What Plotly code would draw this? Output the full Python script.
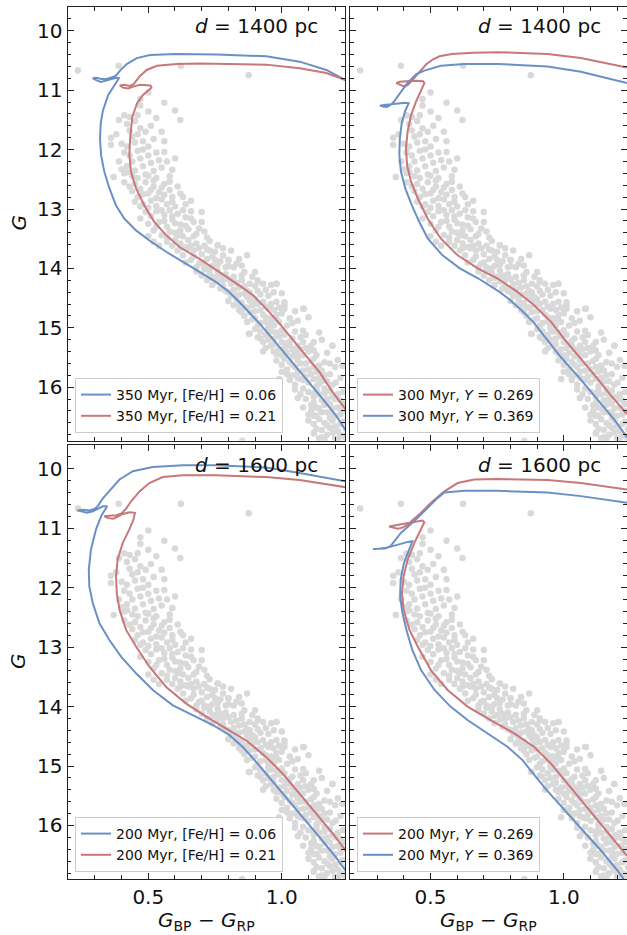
import plotly.graph_objects as go

# ---------------- observed cluster members (same stars in every panel) ----------------
stars = [
    (0.236, 10.67), (0.389, 10.59), (0.622, 10.59), (0.876, 10.75),
    (0.50, 11.04), (0.56, 11.21), (0.60, 11.34), (0.62, 11.50), (0.47, 11.15), (0.47, 11.26),
    (0.46, 11.42), (0.50, 11.36), (0.53, 11.47), (0.39, 11.50), (0.41, 11.42), (0.43, 11.45),
    (0.45, 11.52), (0.42, 11.57), (0.47, 11.64), (0.49, 11.70), (0.46, 11.74), (0.44, 11.78),
    (0.51, 11.60), (0.55, 11.70), (0.56, 11.86), (0.36, 11.80), (0.36, 11.92), (0.40, 11.90),
    (0.42, 11.95), (0.45, 11.88), (0.48, 11.86), (0.50, 11.95), (0.52, 11.82), (0.43, 11.68),
    (0.38, 11.74),
    (0.37, 12.46), (0.40, 12.33), (0.41, 12.40), (0.42, 12.28), (0.43, 12.10), (0.44, 12.20),
    (0.45, 12.35), (0.46, 12.02), (0.47, 12.15), (0.48, 12.28), (0.49, 12.42), (0.50, 12.10),
    (0.51, 12.22), (0.52, 12.36), (0.53, 12.05), (0.54, 12.18), (0.55, 12.30), (0.56, 12.04),
    (0.57, 12.20), (0.58, 12.45), (0.60, 12.15), (0.59, 12.34), (0.39, 12.20), (0.41, 12.05),
    (0.44, 12.45), (0.46, 12.48), (0.50, 12.44), (0.53, 12.48), (0.42, 12.38), (0.48, 12.00),
    (0.41, 12.55), (0.43, 12.62), (0.44, 12.70), (0.45, 12.58), (0.46, 12.80), (0.47, 12.66),
    (0.48, 12.92), (0.49, 12.55), (0.50, 12.74), (0.51, 12.86), (0.52, 12.62), (0.53, 12.95),
    (0.54, 12.72), (0.55, 12.84), (0.56, 12.58), (0.57, 12.92), (0.58, 12.68), (0.59, 12.80),
    (0.60, 12.96), (0.61, 12.62), (0.63, 12.80), (0.64, 12.92), (0.66, 12.86), (0.45, 12.88),
    (0.47, 12.96), (0.50, 12.98), (0.52, 12.52), (0.55, 12.64), (0.58, 12.54), (0.62, 12.74),
    (0.48, 12.75), (0.51, 12.68), (0.53, 12.82), (0.56, 12.76), (0.59, 12.88), (0.70, 13.05),
    (0.47, 13.16), (0.49, 13.05), (0.50, 13.25), (0.51, 13.12), (0.52, 13.36), (0.53, 13.04),
    (0.54, 13.22), (0.55, 13.44), (0.56, 13.10), (0.57, 13.30), (0.58, 13.02), (0.59, 13.18),
    (0.60, 13.40), (0.61, 13.08), (0.62, 13.26), (0.63, 13.46), (0.64, 13.14), (0.65, 13.34),
    (0.66, 13.04), (0.67, 13.22), (0.68, 13.42), (0.70, 13.22), (0.69, 13.33), (0.72, 13.48),
    (0.55, 13.02), (0.57, 13.48), (0.60, 13.24), (0.62, 13.36), (0.64, 13.28), (0.58, 13.38),
    (0.53, 13.30), (0.56, 13.20), (0.66, 13.16), (0.61, 13.44), (0.59, 13.12), (0.63, 13.02),
    (0.67, 13.46), (0.71, 13.38), (0.50, 13.46), (0.52, 13.55), (0.54, 13.62),
    (0.57, 13.55), (0.59, 13.62), (0.60, 13.52), (0.61, 13.70), (0.62, 13.58), (0.63, 13.78),
    (0.64, 13.64), (0.65, 13.52), (0.66, 13.86), (0.67, 13.70), (0.68, 13.58), (0.69, 13.92),
    (0.70, 13.76), (0.71, 13.62), (0.72, 13.84), (0.73, 13.54), (0.74, 13.96), (0.75, 13.72),
    (0.76, 13.61), (0.77, 13.88), (0.78, 13.78), (0.79, 13.98), (0.80, 13.86), (0.81, 13.70),
    (0.83, 13.92), (0.84, 13.84), (0.87, 13.78), (0.82, 13.98), (0.65, 13.66), (0.67, 13.80),
    (0.70, 13.90), (0.72, 13.68), (0.74, 13.80), (0.76, 13.94), (0.78, 13.66), (0.62, 13.66),
    (0.64, 13.90), (0.69, 13.66), (0.73, 13.70), (0.75, 13.86), (0.71, 13.98), (0.80, 13.96),
    (0.85, 13.95), (0.68, 13.98), (0.66, 13.62), (0.80, 13.86), (0.76, 13.61),
    (0.68, 14.05), (0.70, 14.12), (0.71, 14.02), (0.72, 14.20), (0.73, 14.08), (0.74, 14.28),
    (0.75, 14.14), (0.76, 14.04), (0.77, 14.34), (0.78, 14.20), (0.79, 14.10), (0.80, 14.40),
    (0.81, 14.26), (0.82, 14.14), (0.83, 14.46), (0.84, 14.32), (0.85, 14.20), (0.86, 14.06),
    (0.87, 14.38), (0.88, 14.26), (0.89, 14.48), (0.90, 14.30), (0.91, 14.20), (0.92, 14.44),
    (0.94, 14.36), (0.96, 14.28), (0.98, 14.26), (1.00, 14.42), (0.90, 14.06), (0.89, 14.14),
    (0.76, 14.22), (0.78, 14.30), (0.80, 14.18), (0.82, 14.36), (0.84, 14.44), (0.86, 14.30),
    (0.88, 14.40), (0.74, 14.16), (0.79, 14.38), (0.83, 14.24), (0.85, 14.12), (0.87, 14.48),
    (0.91, 14.38), (0.93, 14.26), (0.77, 14.12), (0.81, 14.46), (0.73, 14.00), (0.95, 14.46),
    (0.97, 14.40), (0.86, 14.42), (0.91, 14.23), (0.98, 14.26),
    (0.80, 14.55), (0.82, 14.62), (0.83, 14.52), (0.84, 14.70), (0.85, 14.58), (0.86, 14.80),
    (0.87, 14.66), (0.88, 14.54), (0.89, 14.86), (0.90, 14.72), (0.91, 14.60), (0.92, 14.92),
    (0.93, 14.78), (0.94, 14.64), (0.95, 14.98), (0.96, 14.84), (0.97, 14.70), (0.98, 14.56),
    (0.99, 14.90), (1.00, 14.76), (1.01, 14.62), (1.02, 14.96), (1.03, 14.84), (1.05, 14.72),
    (1.08, 14.68), (1.01, 14.57), (1.00, 14.68), (0.86, 14.66), (0.88, 14.74), (0.90, 14.84),
    (0.92, 14.70), (0.94, 14.82), (0.96, 14.92), (0.98, 14.78), (0.85, 14.74), (0.87, 14.90),
    (0.89, 14.62), (0.91, 14.96), (0.93, 14.56), (0.95, 14.68), (0.97, 14.96), (0.99, 14.66),
    (0.84, 14.60), (1.04, 14.92), (1.06, 14.88), (1.10, 14.82), (0.90, 14.52), (0.94, 14.90),
    (0.96, 14.60), (0.98, 14.86), (1.01, 14.68),
    (0.88, 15.10), (0.90, 15.02), (0.91, 15.16), (0.92, 15.06), (0.93, 15.24), (0.94, 15.12),
    (0.95, 15.02), (0.96, 15.30), (0.97, 15.18), (0.98, 15.08), (0.99, 15.36), (1.00, 15.24),
    (1.01, 15.12), (1.02, 15.42), (1.03, 15.30), (1.04, 15.18), (1.05, 15.06), (1.06, 15.46),
    (1.07, 15.36), (1.08, 15.24), (1.09, 15.12), (1.10, 15.40), (1.11, 15.30), (1.12, 15.38),
    (1.15, 15.20), (1.19, 15.30), (1.14, 15.08), (0.95, 15.20), (0.97, 15.28), (0.99, 15.14),
    (1.01, 15.34), (1.03, 15.22), (1.05, 15.40), (1.07, 15.16), (0.94, 15.34), (0.96, 15.06),
    (0.98, 15.44), (1.00, 15.04), (1.02, 15.26), (1.04, 15.48), (1.06, 15.30), (1.08, 15.46),
    (0.92, 15.18), (0.93, 15.40), (1.09, 15.34), (1.13, 15.46), (1.17, 15.42), (1.04, 15.36),
    (1.00, 15.46), (0.97, 15.40), (1.08, 15.05), (1.12, 15.24),
    (0.98, 15.55), (1.00, 15.62), (1.01, 15.52), (1.02, 15.70), (1.03, 15.58), (1.04, 15.80),
    (1.05, 15.66), (1.06, 15.54), (1.07, 15.86), (1.08, 15.72), (1.09, 15.60), (1.10, 15.92),
    (1.11, 15.78), (1.12, 15.66), (1.13, 15.98), (1.14, 15.84), (1.15, 15.72), (1.16, 15.58),
    (1.17, 15.90), (1.18, 15.78), (1.20, 15.66), (1.22, 15.84), (1.23, 15.64), (1.19, 15.96),
    (1.14, 15.64), (1.04, 15.62), (1.06, 15.74), (1.08, 15.88), (1.10, 15.70), (1.12, 15.86),
    (1.14, 15.94), (1.03, 15.88), (1.05, 15.96), (1.07, 15.60), (1.09, 15.82), (1.11, 15.56),
    (1.13, 15.74), (1.15, 15.90), (1.02, 15.78), (1.16, 15.80), (1.18, 15.60), (1.21, 15.54),
    (1.00, 15.74), (0.99, 15.86), (1.06, 15.84), (1.12, 15.52),
    (1.05, 16.04), (1.07, 16.12), (1.08, 16.02), (1.09, 16.20), (1.10, 16.08), (1.11, 16.30),
    (1.12, 16.16), (1.13, 16.04), (1.14, 16.36), (1.15, 16.22), (1.16, 16.10), (1.17, 16.42),
    (1.18, 16.28), (1.19, 16.16), (1.20, 16.48), (1.21, 16.34), (1.22, 16.22), (1.23, 16.08),
    (1.24, 16.40), (1.12, 16.26), (1.14, 16.12), (1.16, 16.30), (1.18, 16.44), (1.20, 16.20),
    (1.22, 16.38), (1.11, 16.40), (1.13, 16.48), (1.15, 16.42), (1.17, 16.20), (1.19, 16.36),
    (1.21, 16.12), (1.10, 16.46), (1.06, 16.18), (1.08, 16.34), (1.12, 16.10), (1.16, 16.02),
    (1.23, 16.28), (1.13, 16.34), (1.18, 16.06), (1.22, 16.46), (1.12, 16.48),
    (1.10, 16.56), (1.12, 16.62), (1.14, 16.54), (1.15, 16.72), (1.16, 16.60), (1.17, 16.80),
    (1.18, 16.68), (1.19, 16.56), (1.20, 16.86), (1.21, 16.74), (1.22, 16.62), (1.23, 16.82),
    (1.24, 16.70), (1.13, 16.70), (1.15, 16.84), (1.17, 16.64), (1.19, 16.76), (1.21, 16.88),
    (1.23, 16.58), (1.12, 16.78), (1.16, 16.88), (1.18, 16.52), (1.20, 16.66), (1.22, 16.80),
    (1.14, 16.86), (1.24, 16.86),
    (0.877, 15.10), (0.852, 16.90), (1.121, 16.76), (1.121, 16.48), (1.083, 14.68),
    (1.189, 15.30), (1.227, 15.64), (1.202, 15.92), (1.139, 15.64),
]
star_bp_rp = [s[0] for s in stars]
star_g = [s[1] for s in stars]

# ---------------- isochrones (BP-RP, G) ----------------
# top-left: 350 Myr, d = 1400 pc
tl_feh006 = [
    (1.239, 16.72), (1.204, 16.48), (1.154, 16.20), (1.092, 15.86), (1.029, 15.52), (0.967, 15.19),
    (0.917, 14.93), (0.879, 14.74), (0.842, 14.57), (0.804, 14.40), (0.754, 14.23), (0.692, 14.06),
    (0.629, 13.89), (0.567, 13.72), (0.504, 13.53), (0.454, 13.36), (0.410, 13.16), (0.379, 12.94),
    (0.354, 12.65), (0.335, 12.37), (0.323, 12.09), (0.319, 11.81), (0.322, 11.55), (0.330, 11.34),
    (0.350, 11.08), (0.372, 10.92), (0.386, 10.84), (0.390, 10.80),
    (0.380, 10.79), (0.360, 10.81), (0.340, 10.84), (0.322, 10.86), (0.305, 10.83), (0.292, 10.80),
    (0.305, 10.79), (0.325, 10.81), (0.345, 10.81), (0.362, 10.79), (0.378, 10.76),
    (0.394, 10.67), (0.419, 10.56), (0.457, 10.46), (0.507, 10.41), (0.607, 10.39), (0.757, 10.40),
    (0.942, 10.43), (1.067, 10.52), (1.167, 10.66), (1.239, 10.83),
]
tl_feh021 = [
    (1.239, 16.37), (1.192, 16.09), (1.142, 15.75), (1.092, 15.47), (1.042, 15.19), (0.992, 14.93),
    (0.942, 14.68), (0.892, 14.45), (0.842, 14.29), (0.767, 14.06), (0.692, 13.84), (0.617, 13.64),
    (0.567, 13.44), (0.523, 13.22), (0.485, 12.94), (0.454, 12.65), (0.435, 12.37), (0.429, 12.09),
    (0.432, 11.81), (0.440, 11.45), (0.458, 11.22), (0.480, 11.08), (0.500, 11.01), (0.512, 10.96),
    (0.508, 10.92), (0.490, 10.91), (0.469, 10.91), (0.444, 10.94), (0.425, 10.97), (0.407, 10.96),
    (0.393, 10.92), (0.410, 10.91), (0.430, 10.93), (0.445, 10.90),
    (0.469, 10.76), (0.494, 10.66), (0.532, 10.59), (0.607, 10.56), (0.692, 10.55), (0.942, 10.57),
    (1.067, 10.63), (1.167, 10.71), (1.239, 10.83),
]
# top-right: 300 Myr, d = 1400 pc
tr_y0269 = [
    (1.237, 16.45), (1.177, 16.14), (1.127, 15.86), (1.064, 15.52), (1.002, 15.19), (0.952, 14.90),
    (0.889, 14.62), (0.827, 14.40), (0.752, 14.17), (0.677, 14.00), (0.602, 13.78), (0.539, 13.50),
    (0.489, 13.16), (0.452, 12.82), (0.427, 12.54), (0.412, 12.26), (0.408, 11.98), (0.414, 11.70),
    (0.427, 11.42), (0.446, 11.19), (0.464, 11.02), (0.477, 10.88),
    (0.472, 10.85), (0.445, 10.84), (0.410, 10.85), (0.385, 10.86), (0.372, 10.88), (0.388, 10.91),
    (0.403, 10.94), (0.418, 10.90), (0.430, 10.84),
    (0.447, 10.76), (0.465, 10.66), (0.485, 10.56), (0.510, 10.48), (0.534, 10.43), (0.580, 10.39),
    (0.659, 10.37), (0.752, 10.36), (0.939, 10.39), (1.064, 10.46), (1.237, 10.62),
]
tr_y0369 = [
    (1.237, 16.84), (1.190, 16.55), (1.125, 16.20), (1.060, 15.85), (0.990, 15.50), (0.935, 15.19),
    (0.885, 14.90), (0.840, 14.70), (0.795, 14.52), (0.760, 14.40), (0.680, 14.17), (0.610, 14.00),
    (0.545, 13.78), (0.490, 13.50), (0.458, 13.22), (0.430, 12.94), (0.405, 12.65), (0.389, 12.37),
    (0.383, 12.09), (0.385, 11.81), (0.392, 11.55), (0.405, 11.35), (0.418, 11.22),
    (0.405, 11.21), (0.380, 11.22), (0.350, 11.23), (0.325, 11.25), (0.310, 11.26), (0.325, 11.28),
    (0.338, 11.28), (0.352, 11.24), (0.365, 11.18),
    (0.384, 11.06), (0.410, 10.90), (0.433, 10.79), (0.447, 10.73), (0.477, 10.67), (0.539, 10.59),
    (0.627, 10.56), (0.752, 10.56), (0.939, 10.60), (1.064, 10.69), (1.237, 10.88),
]
# bottom-left: 200 Myr, d = 1600 pc
bl_feh006 = [
    (1.239, 16.76), (1.204, 16.54), (1.142, 16.20), (1.079, 15.86), (1.017, 15.52), (0.954, 15.19),
    (0.904, 14.93), (0.854, 14.68), (0.804, 14.48), (0.742, 14.31), (0.667, 14.15), (0.592, 13.98),
    (0.517, 13.72), (0.454, 13.44), (0.398, 13.16), (0.354, 12.88), (0.317, 12.60), (0.292, 12.26),
    (0.279, 11.98), (0.277, 11.70), (0.285, 11.36), (0.304, 11.02), (0.325, 10.78), (0.340, 10.68),
    (0.346, 10.63),
    (0.330, 10.63), (0.310, 10.67), (0.290, 10.72), (0.270, 10.74), (0.250, 10.72), (0.234, 10.70),
    (0.255, 10.69), (0.280, 10.70), (0.300, 10.67), (0.312, 10.62),
    (0.329, 10.50), (0.354, 10.38), (0.392, 10.18), (0.442, 10.04), (0.517, 9.97), (0.629, 9.94),
    (0.754, 9.94), (0.942, 9.98), (1.067, 10.07), (1.239, 10.21),
]
bl_feh021 = [
    (1.239, 16.42), (1.192, 16.14), (1.129, 15.80), (1.067, 15.47), (1.004, 15.13), (0.942, 14.85),
    (0.867, 14.57), (0.792, 14.37), (0.717, 14.17), (0.642, 13.95), (0.567, 13.67), (0.504, 13.33),
    (0.454, 12.99), (0.417, 12.71), (0.392, 12.37), (0.382, 12.09), (0.379, 11.81), (0.385, 11.53),
    (0.404, 11.25), (0.429, 11.02), (0.444, 10.86), (0.450, 10.74),
    (0.430, 10.73), (0.405, 10.76), (0.385, 10.80), (0.370, 10.84), (0.350, 10.83), (0.335, 10.80),
    (0.355, 10.79), (0.380, 10.78), (0.400, 10.75),
    (0.417, 10.67), (0.435, 10.55), (0.467, 10.38), (0.504, 10.24), (0.554, 10.14), (0.629, 10.11),
    (0.754, 10.11), (0.942, 10.14), (1.067, 10.19), (1.239, 10.31),
]
# bottom-right: 200 Myr, d = 1600 pc
br_y0269 = [
    (1.237, 16.51), (1.189, 16.25), (1.139, 15.97), (1.077, 15.64), (1.014, 15.30), (0.952, 14.96),
    (0.889, 14.68), (0.814, 14.45), (0.727, 14.23), (0.639, 14.00), (0.564, 13.72), (0.502, 13.39),
    (0.452, 12.99), (0.421, 12.71), (0.399, 12.37), (0.393, 12.09), (0.399, 11.81), (0.414, 11.53),
    (0.439, 11.25), (0.458, 11.08), (0.477, 10.90),
    (0.470, 10.87), (0.440, 10.89), (0.405, 10.92), (0.370, 10.95), (0.345, 10.97), (0.360, 10.99),
    (0.378, 11.01), (0.395, 10.99), (0.415, 10.94), (0.425, 10.90),
    (0.433, 10.86), (0.458, 10.77), (0.502, 10.57), (0.552, 10.38), (0.602, 10.24), (0.664, 10.18),
    (0.752, 10.17), (0.939, 10.19), (1.064, 10.24), (1.237, 10.35),
]
br_y0369 = [
    (1.225, 16.90), (1.200, 16.75), (1.145, 16.45), (1.075, 16.10), (1.005, 15.75), (0.935, 15.40),
    (0.880, 15.10), (0.845, 14.90), (0.790, 14.68), (0.715, 14.45), (0.640, 14.23), (0.575, 14.00),
    (0.515, 13.72), (0.465, 13.39), (0.432, 13.05), (0.412, 12.75), (0.395, 12.43),
    (0.386, 12.15), (0.388, 11.87), (0.400, 11.59), (0.420, 11.36), (0.432, 11.22),
    (0.415, 11.23), (0.390, 11.26), (0.360, 11.29), (0.335, 11.33), (0.300, 11.35), (0.284, 11.35),
    (0.310, 11.35), (0.330, 11.34), (0.350, 11.30), (0.364, 11.22),
    (0.389, 11.08), (0.439, 10.88), (0.489, 10.66), (0.527, 10.49), (0.552, 10.40), (0.627, 10.37),
    (0.752, 10.37), (0.939, 10.40), (1.064, 10.46), (1.237, 10.57),
]

BLUE = "#6b90c6"
RED = "#c8777a"
FONT = "DejaVu Sans"

panels = [
    dict(ax="", legend="legend", text="<i>d</i> = 1400 pc",
         curves=[("350 Myr, [Fe/H] = 0.06", BLUE, tl_feh006), ("350 Myr, [Fe/H] = 0.21", RED, tl_feh021)]),
    dict(ax="2", legend="legend2", text="<i>d</i> = 1400 pc",
         curves=[("300 Myr, <i>Y</i> = 0.269", RED, tr_y0269), ("300 Myr, <i>Y</i> = 0.369", BLUE, tr_y0369)]),
    dict(ax="3", legend="legend3", text="<i>d</i> = 1600 pc",
         curves=[("200 Myr, [Fe/H] = 0.06", BLUE, bl_feh006), ("200 Myr, [Fe/H] = 0.21", RED, bl_feh021)]),
    dict(ax="4", legend="legend4", text="<i>d</i> = 1600 pc",
         curves=[("200 Myr, <i>Y</i> = 0.269", RED, br_y0269), ("200 Myr, <i>Y</i> = 0.369", BLUE, br_y0369)]),
]

W, H = 627, 935
xl = [67.7 / W, 345 / W]
xr = [350 / W, 1.0]
yt = [1 - 440.7 / H, 1 - 7 / H]
yb = [1 - 879 / H, 1 - 445 / H]
domains = [(xl, yt), (xr, yt), (xl, yb), (xr, yb)]

fig = go.Figure()
for p in panels:
    xa, ya = "x" + p["ax"], "y" + p["ax"]
    fig.add_trace(go.Scatter(x=star_bp_rp, y=star_g, mode="markers", xaxis=xa, yaxis=ya,
                             marker=dict(size=6.5, color="#d9d9d9", line=dict(width=0)),
                             showlegend=False, hoverinfo="skip"))
    for name, col, pts in p["curves"]:
        fig.add_trace(go.Scatter(x=[q[0] for q in pts], y=[q[1] for q in pts], mode="lines",
                                 xaxis=xa, yaxis=ya, name=name, legend=p["legend"],
                                 line=dict(color=col, width=2)))

layout = dict(width=W, height=H, margin=dict(l=0, r=0, t=0, b=0),
              paper_bgcolor="white", plot_bgcolor="white",
              font=dict(family=FONT, color="#111111"), showlegend=True)

axis_common = dict(showline=True, linecolor="#222222", linewidth=1.4, mirror="ticks",
                   ticks="inside", ticklen=6, tickwidth=1.2, tickcolor="#222222",
                   showgrid=False, zeroline=False, tickfont=dict(family=FONT, size=20, color="#111111"))

for i, (p, (dx, dy)) in enumerate(zip(panels, domains)):
    k = p["ax"]
    layout["xaxis" + k] = dict(axis_common, domain=dx, anchor="y" + k, range=[0.198, 1.237],
                               tick0=0.5, dtick=0.5, tickformat=".1f",
                               showticklabels=(i >= 2),
                               minor=dict(ticks="inside", ticklen=3.5, dtick=0.1, tickwidth=1,
                                          tickcolor="#222222"))
    layout["yaxis" + k] = dict(axis_common, domain=dy, anchor="x" + k, range=[16.9, 9.6],
                               tick0=10, dtick=1, showticklabels=(i % 2 == 0),
                               minor=dict(ticks="inside", ticklen=3.5, dtick=0.2, tickwidth=1,
                                          tickcolor="#222222"))

legend_pos = [(75 / W, 1 - 433 / H), (357 / W, 1 - 433 / H), (75 / W, 1 - 872 / H), (357 / W, 1 - 872 / H)]
for p, (lx, ly) in zip(panels, legend_pos):
    layout[p["legend"]] = dict(x=lx, y=ly, xanchor="left", yanchor="bottom",
                               bgcolor="rgba(255,255,255,0.85)", bordercolor="#cccccc", borderwidth=1,
                               font=dict(family=FONT, size=14, color="#111111"),
                               itemwidth=30, tracegroupgap=0, traceorder="normal")

annotations = []
ann_pos = [(320 / W, 1 - 26 / H), (603 / W, 1 - 26 / H), (320 / W, 1 - 465 / H), (603 / W, 1 - 465 / H)]
for p, (ax_, ay_) in zip(panels, ann_pos):
    annotations.append(dict(text=p["text"], x=ax_, y=ay_, xref="paper", yref="paper",
                            xanchor="right", yanchor="middle", showarrow=False,
                            font=dict(family=FONT, size=20, color="#111111")))
for yc in [1 - 222.5 / H, 1 - 661 / H]:
    annotations.append(dict(text="<i>G</i>", x=18 / W, y=yc, xref="paper", yref="paper",
                            textangle=-90, showarrow=False, xanchor="center", yanchor="middle",
                            font=dict(family=FONT, size=20, color="#111111")))
for xc in [206.4 / W, 488.6 / W]:
    annotations.append(dict(text="<i>G</i><sub>BP</sub> − <i>G</i><sub>RP</sub>", x=xc, y=1 - 921 / H,
                            xref="paper", yref="paper", showarrow=False, xanchor="center",
                            yanchor="middle", font=dict(family=FONT, size=20, color="#111111")))
layout["annotations"] = annotations

fig.update_layout(**layout)
fig.write_html("out.html", config={"displayModeBar": False},
               post_script="document.body.style.margin='0';")
